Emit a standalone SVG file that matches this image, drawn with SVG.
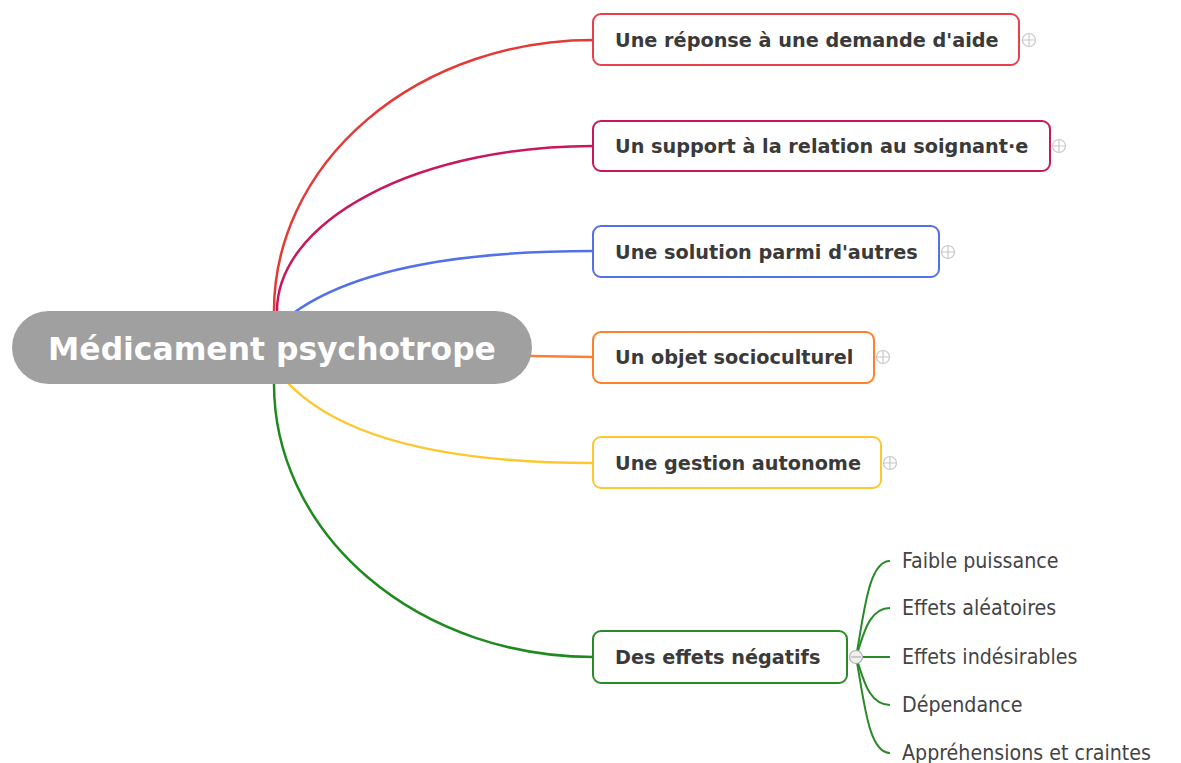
<svg xmlns="http://www.w3.org/2000/svg" width="1181" height="763" viewBox="0 0 1181 763">
<style>
.conn{fill:none;stroke-width:2.5}
.box{fill:#fff;stroke-width:2}
.lbl{font-family:'DejaVu Sans','Liberation Sans',sans-serif;font-weight:bold;font-size:19.25px;fill:#3a3a3a}
.sub{font-family:'DejaVu Sans Condensed','DejaVu Sans',sans-serif;font-stretch:condensed;font-size:21.2px;fill:#444}
.plus{fill:#fff;stroke:#c8c8c8;stroke-width:1.2}
.subconn{fill:none;stroke:#2a8a2a;stroke-width:2}
</style>
<rect width="1181" height="763" fill="#fff"/>
<g id="connectors">
<path class="conn" stroke="#e53935" d="M274,311 A319,271 0 0 1 593,40"/>
<path class="conn" stroke="#c8175d" d="M277,311 A316,165 0 0 1 593,146"/>
<path class="conn" stroke="#5470e8" d="M292,314 Q378,251 593,251"/>
<path class="conn" stroke="#ff7f2a" d="M530,356 L593,357"/>
<path class="conn" stroke="#fdc72f" d="M286,381 Q362,463 593,463"/>
<path class="conn" stroke="#1f8a1f" d="M274,384 A319,273 0 0 0 593,657"/>
<path class="subconn" d="M856,657 C864,615 868,561 890,561"/>
<path class="subconn" d="M856,657 C863,637 868,608 890,608"/>
<path class="subconn" d="M856,657 L890,657"/>
<path class="subconn" d="M856,657 C863,677 868,705 890,705"/>
<path class="subconn" d="M856,657 C864,699 868,753 890,753"/>
</g>
<g id="central">
<rect x="12" y="311" width="520" height="73" rx="36.5" fill="#a0a0a0"/>
<text x="272" y="360" text-anchor="middle" font-family="'DejaVu Sans','Liberation Sans',sans-serif" font-weight="bold" font-size="31.4" fill="#fff">Médicament psychotrope</text>
</g>
<g id="t1">
<rect class="box" x="593" y="14" width="426" height="51" rx="8" stroke="#e8414a"/>
<text class="lbl" x="615" y="47">Une réponse à une demande d'aide</text>
<circle class="plus" cx="1029" cy="40" r="6.5"/><path d="M1023,40h12M1029,34v12" stroke="#c8c8c8" stroke-width="1.2"/>
</g>
<g id="t2">
<rect class="box" x="593" y="121" width="457" height="50" rx="8" stroke="#c8175d"/>
<text class="lbl" x="615" y="153">Un support à la relation au soignant·e</text>
<circle class="plus" cx="1059" cy="146" r="6.5"/><path d="M1053,146h12M1059,140v12" stroke="#c8c8c8" stroke-width="1.2"/>
</g>
<g id="t3">
<rect class="box" x="593" y="226" width="346" height="51" rx="8" stroke="#5470e8"/>
<text class="lbl" x="615" y="259">Une solution parmi d'autres</text>
<circle class="plus" cx="948" cy="252" r="6.5"/><path d="M942,252h12M948,246v12" stroke="#c8c8c8" stroke-width="1.2"/>
</g>
<g id="t4">
<rect class="box" x="593" y="332" width="281" height="51" rx="8" stroke="#ff7f2a"/>
<text class="lbl" x="615" y="364">Un objet socioculturel</text>
<circle class="plus" cx="883" cy="357" r="6.5"/><path d="M877,357h12M883,351v12" stroke="#c8c8c8" stroke-width="1.2"/>
</g>
<g id="t5">
<rect class="box" x="593" y="437" width="288" height="51" rx="8" stroke="#fdc72f"/>
<text class="lbl" x="615" y="470">Une gestion autonome</text>
<circle class="plus" cx="890" cy="463" r="6.5"/><path d="M884,463h12M890,457v12" stroke="#c8c8c8" stroke-width="1.2"/>
</g>
<g id="t6">
<rect class="box" x="593" y="631" width="254" height="52" rx="8" stroke="#2a8a2a"/>
<text class="lbl" x="615" y="664">Des effets négatifs</text>
<circle cx="856" cy="657" r="6.5" fill="#f0f0f0" stroke="#b0b0b0" stroke-width="1.2"/><path d="M851,657h10" stroke="#b0b0b0" stroke-width="1.2"/>
</g>
<g id="s1"><text class="sub" x="902" y="568">Faible puissance</text></g>
<g id="s2"><text class="sub" x="902" y="615">Effets aléatoires</text></g>
<g id="s3"><text class="sub" x="902" y="664">Effets indésirables</text></g>
<g id="s4"><text class="sub" x="902" y="712">Dépendance</text></g>
<g id="s5"><text class="sub" x="902" y="760">Appréhensions et craintes</text></g>
</svg>
